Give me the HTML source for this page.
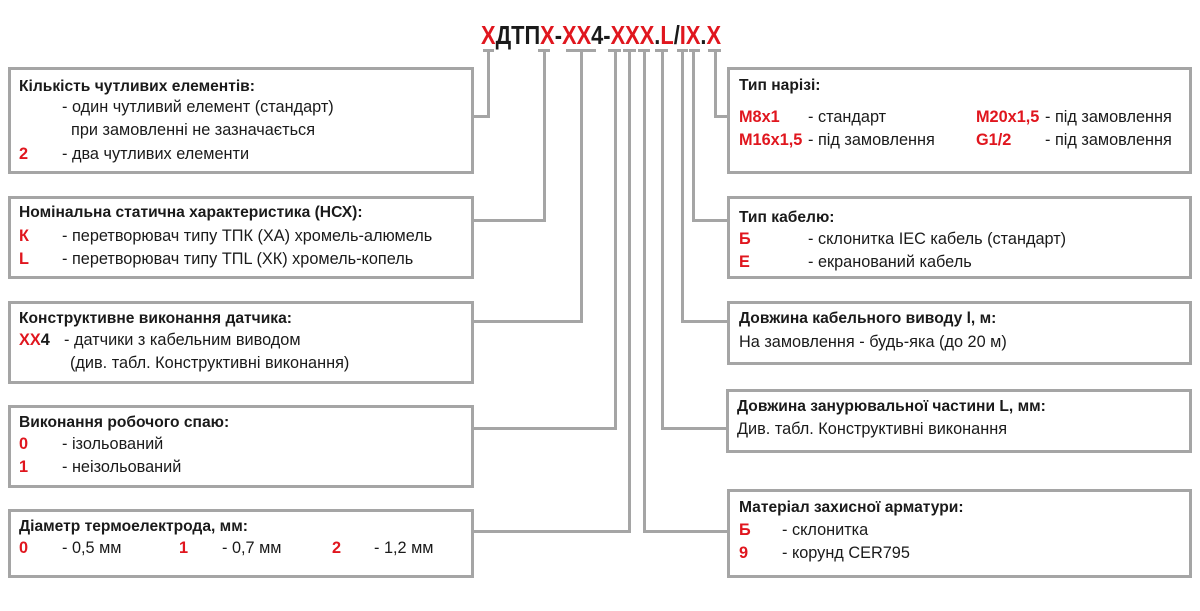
<!DOCTYPE html>
<html><head><meta charset="utf-8"><style>
body{margin:0;width:1200px;height:611px;background:#fff;position:relative;overflow:hidden;font-family:"Liberation Sans",Arial,sans-serif;color:#1a1a1a}
.box{position:absolute;border:3px solid #a5a5a5;box-sizing:border-box}
.t{position:absolute;font-size:16.3px;line-height:18px;white-space:nowrap}
.b{font-weight:bold;font-size:15.6px}
.r{color:#e0161e;font-weight:bold}
.ln{position:absolute;background:#a5a5a5}
#title{position:absolute;left:481px;top:21px;font-size:26px;font-weight:bold;line-height:28px;white-space:nowrap;transform-origin:0 0;transform:scaleX(0.84)}
</style></head><body>
<div id="title"><span class="r">Х</span>ДТП<span class="r">Х</span>-<span class="r">ХХ</span>4-<span class="r">ХХХ</span>.<span class="r">L</span>/<span class="r">IX</span>.<span class="r">X</span></div>

<!-- ticks -->
<div class="ln" style="left:483px;top:49px;width:11px;height:3px"></div>
<div class="ln" style="left:538px;top:49px;width:12px;height:3px"></div>
<div class="ln" style="left:566px;top:49px;width:30px;height:3px"></div>
<div class="ln" style="left:608px;top:49px;width:13px;height:3px"></div>
<div class="ln" style="left:623px;top:49px;width:13px;height:3px"></div>
<div class="ln" style="left:638px;top:49px;width:12px;height:3px"></div>
<div class="ln" style="left:655px;top:49px;width:13px;height:3px"></div>
<div class="ln" style="left:677px;top:49px;width:11px;height:3px"></div>
<div class="ln" style="left:689px;top:49px;width:11px;height:3px"></div>
<div class="ln" style="left:708px;top:49px;width:13px;height:3px"></div>

<!-- connectors left -->
<div class="ln" style="left:487px;top:50px;width:3px;height:67px"></div>
<div class="ln" style="left:472px;top:115px;width:18px;height:3px"></div>
<div class="ln" style="left:543px;top:50px;width:3px;height:172px"></div>
<div class="ln" style="left:472px;top:219px;width:74px;height:3px"></div>
<div class="ln" style="left:580px;top:50px;width:3px;height:273px"></div>
<div class="ln" style="left:472px;top:320px;width:111px;height:3px"></div>
<div class="ln" style="left:614px;top:50px;width:3px;height:380px"></div>
<div class="ln" style="left:472px;top:427px;width:145px;height:3px"></div>
<div class="ln" style="left:628px;top:50px;width:3px;height:483px"></div>
<div class="ln" style="left:472px;top:530px;width:159px;height:3px"></div>
<!-- connectors right -->
<div class="ln" style="left:643px;top:50px;width:3px;height:483px"></div>
<div class="ln" style="left:643px;top:530px;width:86px;height:3px"></div>
<div class="ln" style="left:661px;top:50px;width:3px;height:380px"></div>
<div class="ln" style="left:661px;top:427px;width:68px;height:3px"></div>
<div class="ln" style="left:681px;top:50px;width:3px;height:273px"></div>
<div class="ln" style="left:681px;top:320px;width:48px;height:3px"></div>
<div class="ln" style="left:692px;top:50px;width:3px;height:172px"></div>
<div class="ln" style="left:692px;top:219px;width:37px;height:3px"></div>
<div class="ln" style="left:714px;top:50px;width:3px;height:67px"></div>
<div class="ln" style="left:714px;top:115px;width:15px;height:3px"></div>

<!-- left boxes -->
<div class="box" style="left:8px;top:67px;width:466px;height:107px"></div>
<div class="t b" style="left:19px;top:78px">Кількість чутливих елементів:</div>
<div class="t" style="left:62px;top:98px">- один чутливий елемент (стандарт)</div>
<div class="t" style="left:71px;top:121px">при замовленні не зазначається</div>
<div class="t r" style="left:19px;top:145px">2</div><div class="t" style="left:62px;top:145px">- два чутливих елементи</div>

<div class="box" style="left:8px;top:196px;width:466px;height:83px"></div>
<div class="t b" style="left:19px;top:204px">Номінальна статична характеристика (НСХ):</div>
<div class="t r" style="left:19px;top:227px">К</div><div class="t" style="left:62px;top:227px">- перетворювач типу ТПК (ХА) хромель-алюмель</div>
<div class="t r" style="left:19px;top:250px">L</div><div class="t" style="left:62px;top:250px">- перетворювач типу ТПL (ХК) хромель-копель</div>

<div class="box" style="left:8px;top:301px;width:466px;height:83px"></div>
<div class="t b" style="left:19px;top:310px">Конструктивне виконання датчика:</div>
<div class="t" style="left:19px;top:331px"><span class="r">ХХ</span><b>4</b></div><div class="t" style="left:64px;top:331px">- датчики з кабельним виводом</div>
<div class="t" style="left:70px;top:354px">(див. табл. Конструктивні виконання)</div>

<div class="box" style="left:8px;top:405px;width:466px;height:83px"></div>
<div class="t b" style="left:19px;top:414px">Виконання робочого спаю:</div>
<div class="t r" style="left:19px;top:435px">0</div><div class="t" style="left:62px;top:435px">- ізольований</div>
<div class="t r" style="left:19px;top:458px">1</div><div class="t" style="left:62px;top:458px">- неізольований</div>

<div class="box" style="left:8px;top:509px;width:466px;height:69px"></div>
<div class="t b" style="left:19px;top:518px">Діаметр термоелектрода, мм:</div>
<div class="t r" style="left:19px;top:539px">0</div><div class="t" style="left:62px;top:539px">- 0,5 мм</div>
<div class="t r" style="left:179px;top:539px">1</div><div class="t" style="left:222px;top:539px">- 0,7 мм</div>
<div class="t r" style="left:332px;top:539px">2</div><div class="t" style="left:374px;top:539px">- 1,2 мм</div>

<!-- right boxes -->
<div class="box" style="left:727px;top:67px;width:465px;height:107px"></div>
<div class="t b" style="left:739px;top:77px">Тип нарізі:</div>
<div class="t r" style="left:739px;top:108px">M8x1</div><div class="t" style="left:808px;top:108px">- стандарт</div>
<div class="t r" style="left:976px;top:108px">M20x1,5</div><div class="t" style="left:1045px;top:108px">- під замовлення</div>
<div class="t r" style="left:739px;top:131px">M16x1,5</div><div class="t" style="left:808px;top:131px">- під замовлення</div>
<div class="t r" style="left:976px;top:131px">G1/2</div><div class="t" style="left:1045px;top:131px">- під замовлення</div>

<div class="box" style="left:727px;top:196px;width:465px;height:83px"></div>
<div class="t b" style="left:739px;top:209px">Тип кабелю:</div>
<div class="t r" style="left:739px;top:230px">Б</div><div class="t" style="left:808px;top:230px">- склонитка IEC кабель (стандарт)</div>
<div class="t r" style="left:739px;top:253px">Е</div><div class="t" style="left:808px;top:253px">- екранований кабель</div>

<div class="box" style="left:727px;top:301px;width:465px;height:64px"></div>
<div class="t b" style="left:739px;top:310px">Довжина кабельного виводу l, м:</div>
<div class="t" style="left:739px;top:333px">На замовлення - будь-яка (до 20 м)</div>

<div class="box" style="left:726px;top:389px;width:466px;height:64px"></div>
<div class="t b" style="left:737px;top:398px">Довжина занурювальної частини L, мм:</div>
<div class="t" style="left:737px;top:420px">Див. табл. Конструктивні виконання</div>

<div class="box" style="left:727px;top:489px;width:465px;height:89px"></div>
<div class="t b" style="left:739px;top:499px">Матеріал захисної арматури:</div>
<div class="t r" style="left:739px;top:521px">Б</div><div class="t" style="left:782px;top:521px">- склонитка</div>
<div class="t r" style="left:739px;top:544px">9</div><div class="t" style="left:782px;top:544px">- корунд CER795</div>
</body></html>
